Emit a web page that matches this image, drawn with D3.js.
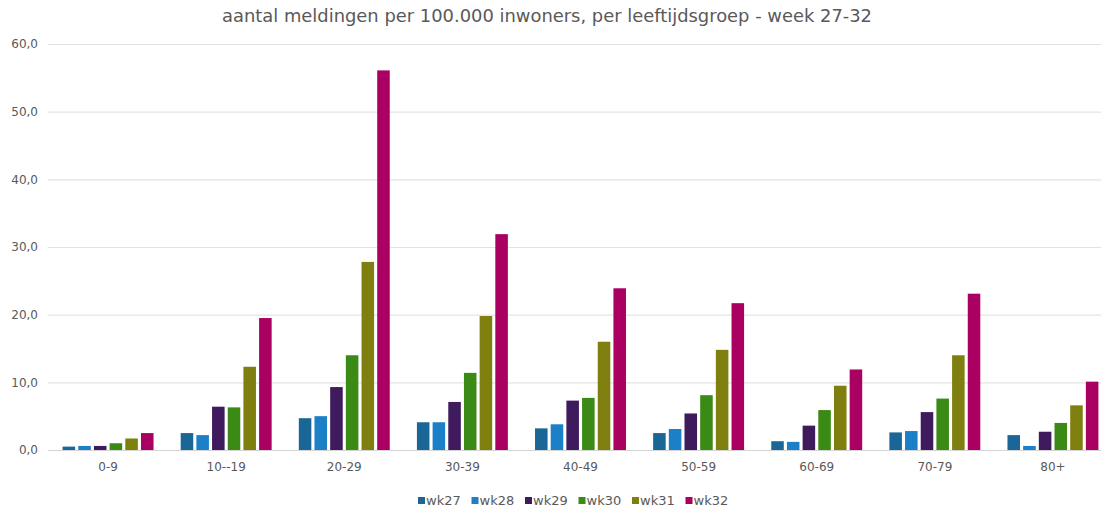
<!DOCTYPE html>
<html>
<head>
<meta charset="utf-8">
<script src="https://cdn.jsdelivr.net/npm/d3@7"></script>
<style>
  body { margin: 0; background: #fff; }
  svg text { font-family: "DejaVu Sans", Verdana, sans-serif; fill: #595959; }
</style>
</head>
<body>
<svg id="chart" width="1101" height="515"></svg>
<script>
// age groups on the x axis
var ageGroups = ['0-9', '10--19', '20-29', '30-39', '40-49', '50-59', '60-69', '70-79', '80+'];
var weeks = ['wk27', 'wk28', 'wk29', 'wk30', 'wk31', 'wk32'];
var weekColors = ['#1a6797', '#1b80c8', '#3f1a5d', '#3c8a16', '#7f7f0f', '#a90062'];
var yTicks = [0, 10, 20, 30, 40, 50, 60];

// reports per 100.000 inhabitants, one array per week
var wk27 = [0.5, 2.5, 4.7, 4.1, 3.2, 2.5, 1.3, 2.6, 2.2];
var wk28 = [0.6, 2.2, 5.0, 4.1, 3.8, 3.1, 1.2, 2.8, 0.6];
var wk29 = [0.6, 6.4, 9.3, 7.1, 7.3, 5.4, 3.6, 5.6, 2.7];
var wk30 = [1.0, 6.3, 14.0, 11.4, 7.7, 8.1, 5.9, 7.6, 4.0];
var wk31 = [1.7, 12.3, 27.8, 19.8, 16.0, 14.8, 9.5, 14.0, 6.6];
var wk32 = [2.5, 19.5, 56.1, 31.9, 23.9, 21.7, 11.9, 23.1, 10.1];
var series = [wk27, wk28, wk29, wk30, wk31, wk32];

var svg = d3.select('#chart');
var plotLeft = 49, plotRight = 1112, plotTop = 44, plotBottom = 450;

var x0 = d3.scaleBand().domain(ageGroups).range([plotLeft, plotRight]).paddingInner(0.23).paddingOuter(0.115);
var x1 = d3.scaleBand().domain(weeks).range([0, x0.bandwidth()]).paddingInner(0.2);
var y = d3.scaleLinear().domain([0, 60]).range([plotBottom, plotTop]);

var fmt = function(d) { return d3.format('.1f')(d).replace('.', ','); };

// title
svg.append('text')
  .attr('x', 547).attr('y', 22)
  .attr('text-anchor', 'middle')
  .style('font-size', '17px')
  .attr('textLength', 650)
  .attr('lengthAdjust', 'spacingAndGlyphs')
  .text('aantal meldingen per 100.000 inwoners, per leeftijdsgroep - week 27-32');

// grid + y labels
var yAxis = d3.axisLeft(y).tickValues(yTicks).tickFormat(fmt).tickSize(-(1101 - 48)).tickPadding(10);
var gy = svg.append('g').attr('transform', 'translate(48,0)').call(yAxis);
gy.select('.domain').remove();
gy.selectAll('.tick line').attr('stroke', '#e3e3e3').attr('stroke-width', 1.2);
gy.selectAll('.tick text').style('font-size', '12px').attr('fill', '#595959');
gy.selectAll('.tick').filter(function(d) { return d === 0; }).select('line').attr('stroke', '#d4d4d4');

// bars
var groups = svg.append('g').selectAll('g')
  .data(ageGroups)
  .join('g')
  .attr('transform', function(d) { return 'translate(' + x0(d) + ',0)'; });

groups.selectAll('rect')
  .data(function(d, i) {
    return weeks.map(function(w, j) { return { week: w, value: series[j][i], color: weekColors[j] }; });
  })
  .join('rect')
  .attr('x', function(d) { return x1(d.week); })
  .attr('y', function(d) { return y(d.value); })
  .attr('width', x1.bandwidth())
  .attr('height', function(d) { return plotBottom - y(d.value); })
  .attr('fill', function(d) { return d.color; });

// x labels
var xAxis = d3.axisBottom(x0).tickSize(0).tickPadding(12);
var gx = svg.append('g').attr('transform', 'translate(0,' + plotBottom + ')').call(xAxis);
gx.select('.domain').remove();
gx.selectAll('.tick text').style('font-size', '12px').attr('fill', '#595959');

// legend
var legend = svg.append('g').selectAll('g')
  .data(weeks)
  .join('g')
  .attr('transform', function(d, i) { return 'translate(' + (418 + 53.5 * i) + ',505)'; });
legend.append('rect')
  .attr('x', 0).attr('y', -8).attr('width', 7).attr('height', 7)
  .attr('fill', function(d, i) { return weekColors[i]; });
legend.append('text')
  .attr('x', 8).attr('y', 0)
  .style('font-size', '13px')
  .text(function(d) { return d; });
</script>
</body>
</html>
